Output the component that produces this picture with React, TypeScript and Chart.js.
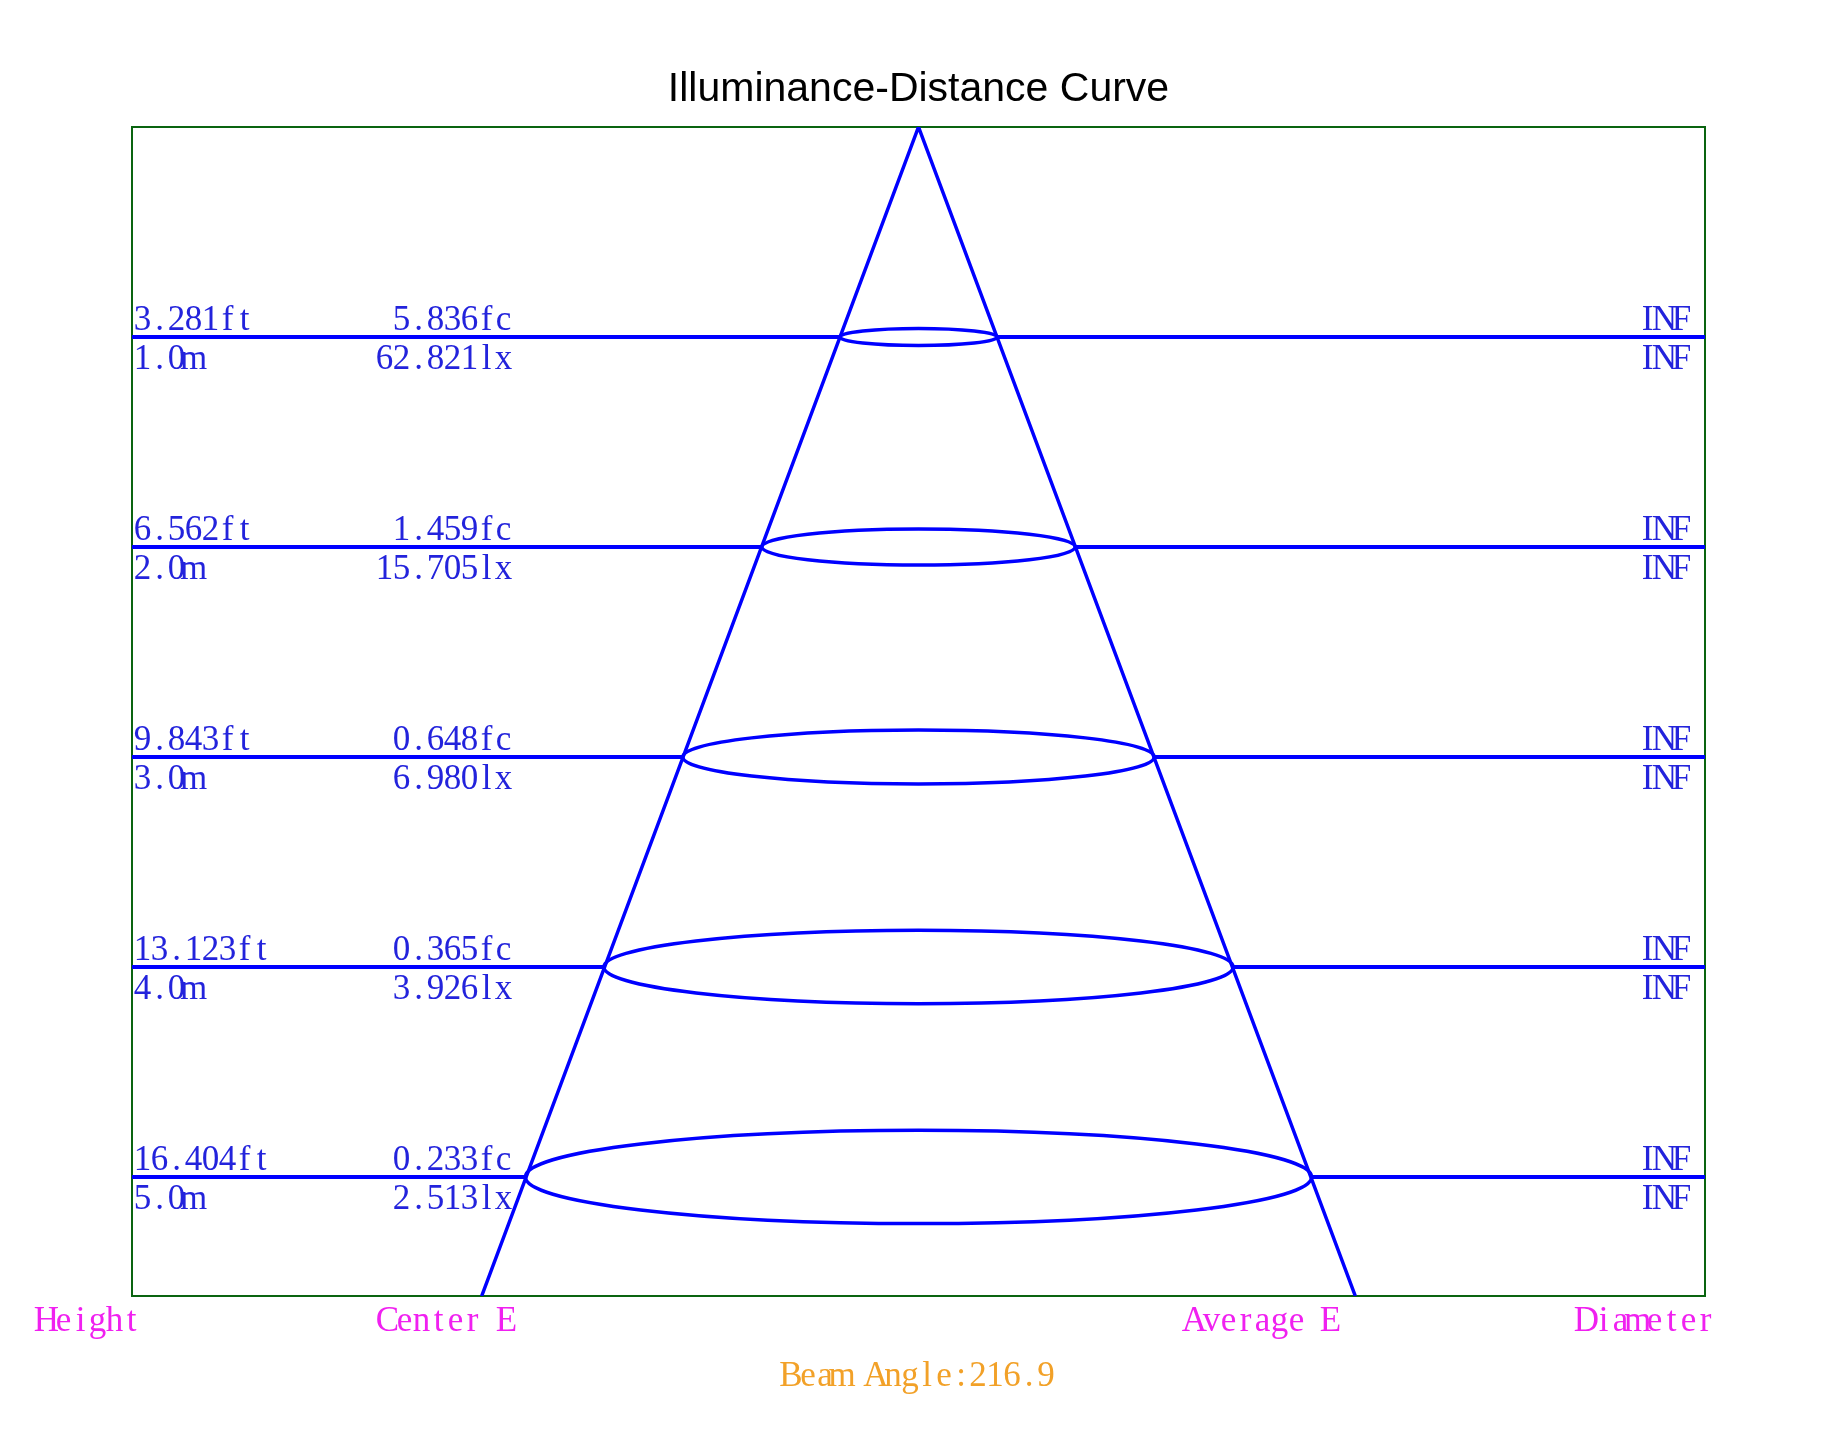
import React, { useEffect, useRef } from 'react';
import { Chart, registerables } from 'chart.js';

Chart.register(...registerables);

// ---- data ----
const heightsM = [1, 2, 3, 4, 5];
const heightFtLabels = ['3.281ft', '6.562ft', '9.843ft', '13.123ft', '16.404ft'];
const heightMLabels = ['1.0m', '2.0m', '3.0m', '4.0m', '5.0m'];
const centerFcLabels = ['5.836fc', '1.459fc', '0.648fc', '0.365fc', '0.233fc'];
const centerLxLabels = ['62.821lx', '15.705lx', '6.980lx', '3.926lx', '2.513lx'];
const diameterFtLabels = ['INF', 'INF', 'INF', 'INF', 'INF'];
const diameterMLabels = ['INF', 'INF', 'INF', 'INF', 'INF'];
// half width of the beam at each height (m) and half height of the drawn ellipse (m)
const beamHalfWidths = [0.375, 0.746, 1.123, 1.498, 1.872];
const ellipseHalfHeights = [0.0405, 0.0857, 0.1286, 0.175, 0.222];
// cone outline points
const conePoints = [
  { x: -2.08, y: 5.567 },
  { x: 0, y: 0 },
  { x: 2.08, y: 5.567 },
];
const xMin = -3.745;
const xMax = 3.745;
const yMin = 0;
const yMax = 5.567;
const columnLabels = ['Height', 'Center E', 'Average E', 'Diameter'];
const beamAngleLabel = 'Beam Angle:216.9';
const chartTitle = 'Illuminance-Distance Curve';

const BLUE = '#0000ff';
const TEXT_BLUE = '#2323dc';
const MAGENTA = '#f020f0';
const ORANGE = '#f2a128';
const FRAME = '#0a6410';
const MONO_FONT = '35px "Liberation Serif", "DejaVu Serif", serif';
const CELL = 17;

function drawMono(ctx: CanvasRenderingContext2D, text: string, x: number, y: number, align: 'left' | 'right' | 'center') {
  const total = text.length * CELL;
  const start = align === 'left' ? x : align === 'right' ? x - total : x - total / 2;
  ctx.textAlign = 'center';
  for (let k = 0; k < text.length; k++) {
    ctx.fillText(text[k], start + CELL * (k + 0.5), y);
  }
}

const overlayPlugin = {
  id: 'overlay',
  beforeDatasetsDraw(chart: any) {
    const { ctx, chartArea: a } = chart;
    ctx.save();
    ctx.strokeStyle = FRAME;
    ctx.lineWidth = 2;
    ctx.strokeRect(a.left, a.top, a.right - a.left, a.bottom - a.top);
    ctx.restore();
  },
  afterDatasetsDraw(chart: any) {
    const { ctx, chartArea: a } = chart;
    const xs = chart.scales.x;
    const ys = chart.scales.y;
    ctx.save();
    // ellipses
    ctx.strokeStyle = BLUE;
    ctx.lineWidth = 3.5;
    heightsM.forEach((d, i) => {
      const cx = xs.getPixelForValue(0);
      const cy = ys.getPixelForValue(d);
      const rx = Math.abs(xs.getPixelForValue(beamHalfWidths[i]) - cx);
      const ry = Math.abs(ys.getPixelForValue(d + ellipseHalfHeights[i]) - cy);
      ctx.beginPath();
      ctx.ellipse(cx, cy, rx, ry, 0, 0, Math.PI * 2);
      ctx.stroke();
    });

    // row labels
    ctx.font = MONO_FONT;
    ctx.fillStyle = TEXT_BLUE;
    ctx.textBaseline = 'alphabetic';
    heightsM.forEach((d, i) => {
      const py = ys.getPixelForValue(d);
      const up = py - 7;
      const down = py + 32;
      drawMono(ctx, heightFtLabels[i], a.left + 2, up, 'left');
      drawMono(ctx, heightMLabels[i], a.left + 2, down, 'left');
      drawMono(ctx, centerFcLabels[i], a.left + 380, up, 'right');
      drawMono(ctx, centerLxLabels[i], a.left + 380, down, 'right');
      drawMono(ctx, diameterFtLabels[i], a.right - 15, up, 'right');
      drawMono(ctx, diameterMLabels[i], a.right - 15, down, 'right');
    });

    // column labels
    ctx.fillStyle = MAGENTA;
    const colX = [a.left - 94, a.left + 247, a.left + 1054, a.left + 1446];
    columnLabels.forEach((t, i) => drawMono(ctx, t, colX[i], a.bottom + 35, 'left'));

    // beam angle
    ctx.fillStyle = ORANGE;
    drawMono(ctx, beamAngleLabel, (a.left + a.right) / 2, a.bottom + 90, 'center');

    // title
    ctx.fillStyle = '#000000';
    ctx.font = '41px "Liberation Sans", Arial, sans-serif';
    ctx.textAlign = 'center';
    ctx.fillText(chartTitle, (a.left + a.right) / 2, a.top - 26);
    ctx.restore();
  },
};

export default function App() {
  const canvasRef = useRef<HTMLCanvasElement | null>(null);

  useEffect(() => {
    const canvas = canvasRef.current;
    if (!canvas) return;

    const lineStyle = {
      showLine: true,
      borderColor: BLUE,
      borderWidth: 4,
      pointRadius: 0,
      fill: false,
    };
    const levelDatasets: any[] = [];
    heightsM.forEach((d, i) => {
      levelDatasets.push({
        ...lineStyle,
        data: [
          { x: xMin, y: d },
          { x: -beamHalfWidths[i], y: d },
        ],
      });
      levelDatasets.push({
        ...lineStyle,
        data: [
          { x: beamHalfWidths[i], y: d },
          { x: xMax, y: d },
        ],
      });
    });

    const chart = new Chart(canvas, {
      type: 'scatter',
      data: {
        datasets: [
          ...levelDatasets,
          {
            data: conePoints,
            showLine: true,
            borderColor: BLUE,
            borderWidth: 3.5,
            pointRadius: 0,
            fill: false,
          },
        ] as any,
      },
      options: {
        animation: false,
        responsive: true,
        maintainAspectRatio: false,
        devicePixelRatio: 1,
        layout: { padding: { left: 132, right: 122, top: 127, bottom: 145 } },
        plugins: {
          legend: { display: false },
          title: { display: false },
          tooltip: { enabled: false },
        },
        scales: {
          x: { type: 'linear', min: xMin, max: xMax, display: false },
          y: { type: 'linear', min: yMin, max: yMax, reverse: true, display: false },
        },
      },
      plugins: [overlayPlugin],
    });

    return () => chart.destroy();
  }, []);

  return (
    <div style={{ position: 'absolute', left: 0, top: 0, width: 1827, height: 1441, background: '#ffffff' }}>
      <canvas ref={canvasRef} />
    </div>
  );
}
